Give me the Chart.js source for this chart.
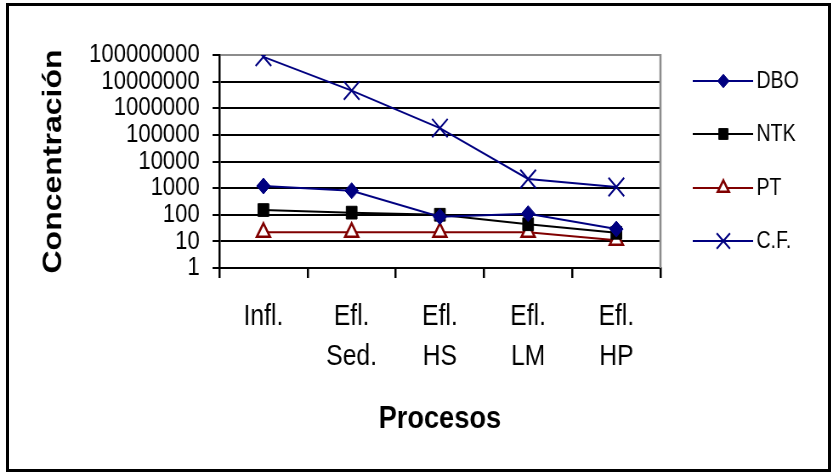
<!DOCTYPE html>
<html>
<head>
<meta charset="utf-8">
<script src="https://cdn.jsdelivr.net/npm/chart.js@4/dist/chart.umd.min.js"></script>
<style>
  body { margin: 0; background: #fff; overflow: hidden; }
  #frame { position: absolute; left: 6px; top: 3px; width: 819px; height: 463px; border: 3px solid #000; }
  #wrap { position: absolute; left: 0; top: 0; width: 982px; height: 474px; transform: scaleX(0.85); transform-origin: 0 0; }
</style>
</head>
<body>
<div id="frame"></div>
<div id="wrap"><canvas id="chart" width="982" height="474"></canvas></div>
<script>
const procesos = [["Infl."], ["Efl.", "Sed."], ["Efl.", "HS"], ["Efl.", "LM"], ["Efl.", "HP"]];
const dbo = [1200, 800, 85, 110, 29];
const ntk = [150, 120, 100, 44, 21];
const pt = [22, 22, 22, 22, 11];
const cf = [85000000, 4600000, 180000, 2200, 1100];
const yTicks = [1, 10, 100, 1000, 10000, 100000, 1000000, 10000000, 100000000];

Chart.defaults.font.family = "'Liberation Sans', Arial, sans-serif";
Chart.defaults.color = "#000";

const navy = "#000080";
const maroon = "#800000";

// Excel-style legend: line with the marker in the middle
const legendRows = [81, 134, 188, 241];
const sideLegend = {
  id: "sideLegend",
  afterDraw(chart) {
    const ctx = chart.ctx;
    chart.data.datasets.forEach((ds, i) => {
      const y = legendRows[i];
      ctx.save();
      ctx.strokeStyle = ds.borderColor;
      ctx.lineWidth = 2;
      ctx.beginPath();
      ctx.moveTo(815, y);
      ctx.lineTo(886, y);
      ctx.stroke();
      ctx.fillStyle = ds.pointBackgroundColor;
      ctx.strokeStyle = ds.pointBorderColor;
      ctx.lineWidth = ds.pointBorderWidth || 1;
      Chart.helpers.drawPoint(ctx, {
        pointStyle: ds.pointStyle,
        radius: ds.pointRadius * 0.85,
        borderWidth: ds.pointBorderWidth || 1,
        rotation: 0
      }, 851, y);
      ctx.fillStyle = "#000";
      ctx.font = "23px 'Liberation Sans', Arial, sans-serif";
      ctx.textBaseline = "middle";
      ctx.textAlign = "left";
      ctx.fillText(ds.label, 890, y + 1);
      ctx.restore();
    });
  }
};

// grey right edge of the plot area
const plotEdge = {
  id: "plotEdge",
  beforeDatasetsDraw(chart) {
    const { ctx, chartArea } = chart;
    ctx.save();
    ctx.strokeStyle = "#8c8c8c";
    ctx.lineWidth = 2.5;
    ctx.beginPath();
    ctx.moveTo(chartArea.right, chartArea.top - 1);
    ctx.lineTo(chartArea.right, chartArea.bottom);
    ctx.stroke();
    ctx.restore();
  }
};

new Chart(document.getElementById("chart"), {
  type: "line",
  data: {
    labels: procesos,
    datasets: [
      {
        label: "DBO",
        data: dbo,
        borderColor: navy,
        borderWidth: 2,
        pointStyle: "rectRot",
        pointRadius: 8,
        pointBackgroundColor: navy,
        pointBorderColor: navy,
        pointBorderWidth: 1
      },
      {
        label: "NTK",
        data: ntk,
        borderColor: "#000",
        borderWidth: 2,
        pointStyle: "rect",
        pointRadius: 9,
        pointBackgroundColor: "#000",
        pointBorderColor: "#000",
        pointBorderWidth: 1
      },
      {
        label: "PT",
        data: pt,
        borderColor: maroon,
        borderWidth: 2,
        pointStyle: "triangle",
        pointRadius: 9,
        pointBackgroundColor: "#fff",
        pointBorderColor: maroon,
        pointBorderWidth: 2.5
      },
      {
        label: "C.F.",
        data: cf,
        borderColor: navy,
        borderWidth: 2,
        pointStyle: "crossRot",
        pointRadius: 13,
        pointBackgroundColor: navy,
        pointBorderColor: navy,
        pointBorderWidth: 2
      }
    ]
  },
  options: {
    responsive: false,
    animation: false,
    layout: { padding: { top: 55, right: 205, bottom: 0, left: 0 } },
    plugins: {
      legend: { display: false },
      tooltip: { enabled: false }
    },
    scales: {
      x: {
        type: "category",
        offset: true,
        afterFit(scale) { scale.height = 206; },
        grid: {
          display: true,
          offset: true,
          drawOnChartArea: false,
          drawTicks: true,
          tickLength: 10,
          color: "#000",
          lineWidth: 2.5
        },
        border: { display: true, color: "#000", width: 2 },
        ticks: {
          padding: 19,
          maxRotation: 0,
          autoSkip: false,
          font: { size: 29, lineHeight: 1.38 }
        },
        title: {
          display: true,
          text: "Procesos",
          padding: { top: 0, bottom: 36 },
          font: { size: 32, weight: "bold" }
        }
      },
      y: {
        type: "logarithmic",
        min: 1,
        max: 100000000,
        afterFit(scale) { scale.width = 258; },
        afterBuildTicks(scale) {
          scale.ticks = yTicks.map(v => ({ value: v }));
        },
        grid: {
          color: ctx => (ctx.tick && ctx.tick.value === 100000000 ? "#8c8c8c" : "#000"),
          tickColor: "#000",
          lineWidth: 2,
          tickLength: 8
        },
        border: { display: true, color: "#000", width: 2.5 },
        ticks: {
          padding: 15,
          autoSkip: false,
          font: { size: 26 },
          callback: v => String(v)
        },
        title: {
          display: true,
          text: "Concentración",
          padding: { top: 44, bottom: 0 },
          font: { size: 32, weight: "bold" }
        }
      }
    }
  },
  plugins: [plotEdge, sideLegend]
});
</script>
</body>
</html>
